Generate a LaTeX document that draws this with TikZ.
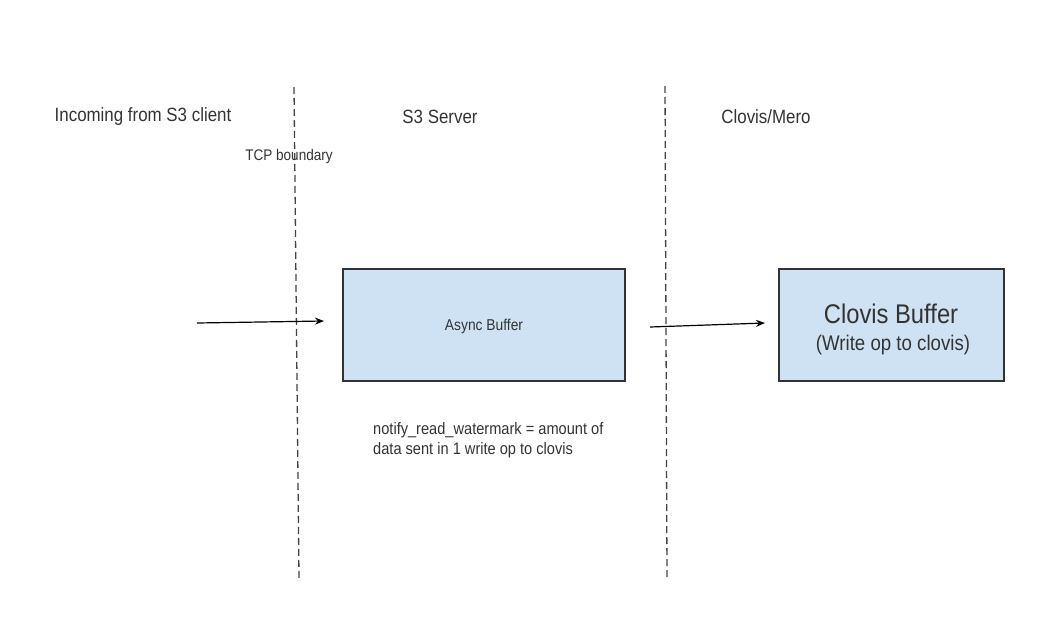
\documentclass[tikz,border=0pt]{standalone}
\usepackage{fontspec}
\setmainfont{Liberation Sans}
\usetikzlibrary{arrows.meta}
\definecolor{boxfill}{HTML}{CFE2F3}
\definecolor{boxline}{HTML}{333333}
\definecolor{dashgray}{HTML}{444444}
\newcommand{\cnd}[1]{\scalebox{0.88}[1]{#1}}
\tikzset{
  bufbox/.style={draw=boxline, line width=1.8pt, fill=boxfill, inner sep=0pt},
  lbl/.style={inner sep=0pt, text=black!80},
  flow/.style={-{Stealth[length=9pt,width=7pt]}, line width=1.2pt, black},
  bound/.style={draw=dashgray, line width=1.3pt, dash pattern=on 7pt off 4pt},
}
\begin{document}
\begin{tikzpicture}[x=1pt,y=-1pt]
\useasboundingbox (0,0) rectangle (1059,618);
% boundaries
\coordinate (tcpTop) at (294,87);
\coordinate (tcpBot) at (299,578);
\coordinate (cmTop) at (665,86);
\coordinate (cmBot) at (667,578);
\draw[bound] (tcpTop) -- (tcpBot);
\draw[bound] (cmTop) -- (cmBot);
% headers
\node[lbl, font=\fontsize{19.2}{22}\selectfont] (inc) at (143,117) {\cnd{Incoming from S3 client}};
\node[lbl, font=\fontsize{19.2}{22}\selectfont] (srv) at (440,117) {\cnd{S3 Server}};
\node[lbl, font=\fontsize{19.2}{22}\selectfont] (cm) at (766,117) {\cnd{Clovis/Mero}};
\node[lbl, font=\fontsize{15.4}{18}\selectfont] (tcp) at (289,157) {\cnd{TCP boundary}};
% boxes
\node[bufbox, minimum width=282pt, minimum height=112pt] (async) at (484,325) {};
\node[lbl, font=\fontsize{15.7}{18}\selectfont] (asynct) at (484,326) {\cnd{Async Buffer}};
\node[bufbox, minimum width=225pt, minimum height=112pt] (clovis) at (891.5,325) {};
\node[lbl, font=\fontsize{27}{30}\selectfont] (clovist) at (891,314) {\cnd{Clovis Buffer}};
\node[lbl, font=\fontsize{21.2}{24}\selectfont] (clovisw) at (893,345) {\cnd{(Write op to clovis)}};
% note
\node[lbl, anchor=north west, align=left, font=\fontsize{16.6}{20}\selectfont] (note) at (373,422) {\cnd{notify\_read\_watermark = amount of}\\\cnd{data sent in 1 write op to clovis}};
% arrows
\coordinate (inStart) at (197,323);
\coordinate (inEnd) at (324,321);
\coordinate (outStart) at (650,327);
\coordinate (outEnd) at (765,323);
\draw[flow] (inStart) -- (inEnd);
\draw[flow] (outStart) -- (outEnd);
\end{tikzpicture}
\end{document}
